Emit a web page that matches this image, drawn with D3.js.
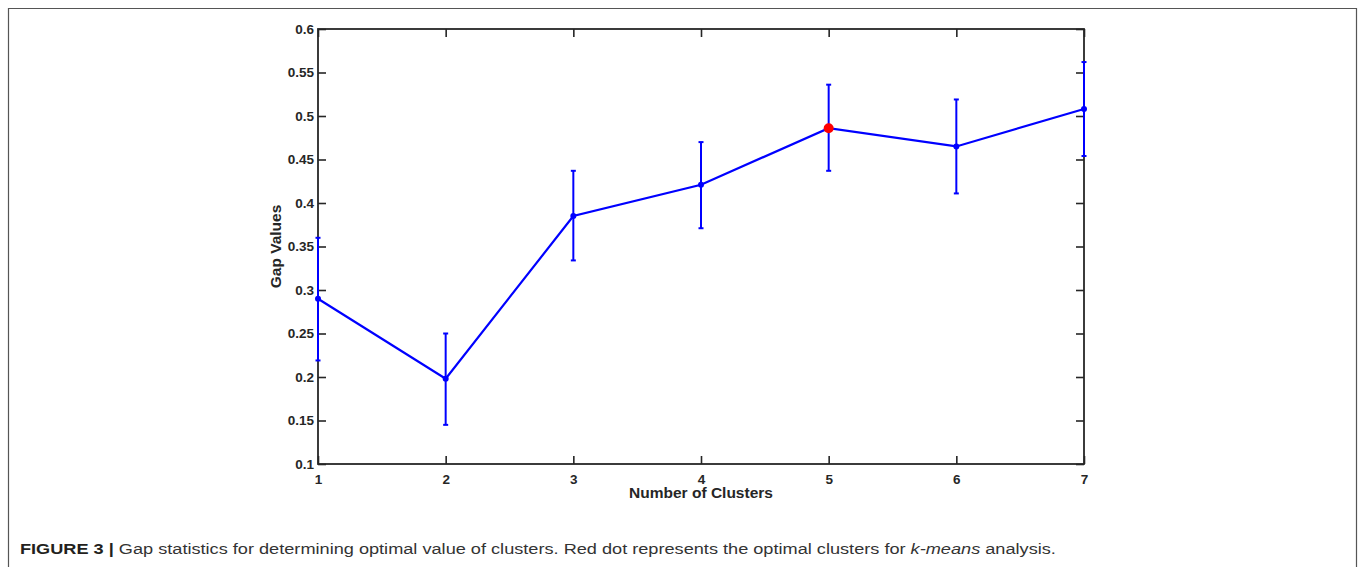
<!doctype html>
<html>
<head>
<meta charset="UTF-8">
<title>Gap statistics</title>
<script src="https://d3js.org/d3.v7.min.js"></script>
<style>
  body { margin: 0; background: #fff; }
  text { font-family: "Liberation Sans", Arial, sans-serif; }
</style>
</head>
<body>
<svg width="1365" height="567" id="chart"></svg>
<script>
// number of clusters and gap values
var clusters = [1, 2, 3, 4, 5, 6, 7];
var gapValues = [0.290, 0.198, 0.385, 0.421, 0.486, 0.465, 0.508];
var errLow = [0.219, 0.145, 0.334, 0.371, 0.437, 0.411, 0.454];
var errHigh = [0.360, 0.250, 0.437, 0.470, 0.536, 0.519, 0.562];
var yTicks = [0.1, 0.15, 0.2, 0.25, 0.3, 0.35, 0.4, 0.45, 0.5, 0.55, 0.6];
var bestK = 5;

var svg = d3.select("#chart");
var plotL = 318, plotR = 1084, plotT = 29, plotB = 464;

// outer frame of the figure (open at the bottom)
svg.append("path")
  .attr("d", "M8.5,567 V8.5 H1356.5 V567")
  .attr("fill", "none")
  .attr("stroke", "#555")
  .attr("stroke-width", 1.2);

var x = d3.scaleLinear().domain([1, 7]).range([plotL, plotR]);
var y = d3.scaleLinear().domain([0.1, 0.6]).range([plotB, plotT]);

var axisColor = "#262626";
function styleAxis(g) {
  g.select(".domain").remove();
  g.selectAll(".tick line").attr("stroke", axisColor).attr("stroke-width", 1.6);
  g.selectAll(".tick text")
    .attr("fill", "#262626")
    .attr("font-size", 13.5)
    .attr("font-weight", "bold");
}

// bottom axis with inward ticks
svg.append("g")
  .attr("transform", "translate(0," + plotB + ")")
  .call(d3.axisBottom(x).tickValues(clusters).tickFormat(d3.format("d")).tickSizeInner(-8).tickSizeOuter(0))
  .call(styleAxis)
  .call(function (g) { g.selectAll(".tick text").attr("dy", "0.71em").attr("y", 10); });

// top axis ticks only
svg.append("g")
  .attr("transform", "translate(0," + plotT + ")")
  .call(d3.axisTop(x).tickValues(clusters).tickSizeInner(-8).tickSizeOuter(0).tickFormat(""))
  .call(styleAxis);

// left axis
svg.append("g")
  .attr("transform", "translate(" + plotL + ",0)")
  .call(d3.axisLeft(y).tickValues(yTicks).tickFormat(function (d) { return String(+d.toFixed(2)); })
    .tickSizeInner(-8).tickSizeOuter(0))
  .call(styleAxis)
  .call(function (g) { g.selectAll(".tick text").attr("x", -4); });

// right axis ticks only
svg.append("g")
  .attr("transform", "translate(" + plotR + ",0)")
  .call(d3.axisRight(y).tickValues(yTicks).tickSizeInner(-8).tickSizeOuter(0).tickFormat(""))
  .call(styleAxis);

// axes box
svg.append("rect")
  .attr("x", plotL).attr("y", plotT)
  .attr("width", plotR - plotL).attr("height", plotB - plotT)
  .attr("fill", "none")
  .attr("stroke", axisColor)
  .attr("stroke-width", 1.8);

// axis labels
svg.append("text")
  .attr("x", (plotL + plotR) / 2).attr("y", 498)
  .attr("text-anchor", "middle")
  .attr("font-size", 15.5).attr("font-weight", "bold").attr("fill", "#262626")
  .text("Number of Clusters");

svg.append("text")
  .attr("transform", "translate(281," + ((plotT + plotB) / 2) + ") rotate(-90)")
  .attr("text-anchor", "middle")
  .attr("font-size", 15.5).attr("font-weight", "bold").attr("fill", "#262626")
  .text("Gap Values");

var blue = "#0000ff";
var data = clusters.map(function (k, i) {
  return { k: k, v: gapValues[i], lo: errLow[i], hi: errHigh[i] };
});

// error bars
var eb = svg.append("g").attr("stroke", blue).attr("stroke-width", 2);
data.forEach(function (d) {
  eb.append("line").attr("x1", x(d.k)).attr("x2", x(d.k)).attr("y1", y(d.lo)).attr("y2", y(d.hi));
  eb.append("line").attr("x1", x(d.k) - 2.5).attr("x2", x(d.k) + 2.5).attr("y1", y(d.lo)).attr("y2", y(d.lo));
  eb.append("line").attr("x1", x(d.k) - 2.5).attr("x2", x(d.k) + 2.5).attr("y1", y(d.hi)).attr("y2", y(d.hi));
});

// connecting line
svg.append("path")
  .datum(data)
  .attr("fill", "none")
  .attr("stroke", blue)
  .attr("stroke-width", 2.2)
  .attr("d", d3.line().x(function (d) { return x(d.k); }).y(function (d) { return y(d.v); }));

// markers
svg.selectAll("circle.pt")
  .data(data)
  .enter().append("circle")
  .attr("class", "pt")
  .attr("cx", function (d) { return x(d.k); })
  .attr("cy", function (d) { return y(d.v); })
  .attr("r", function (d) { return d.k === bestK ? 5 : 3; })
  .attr("fill", function (d) { return d.k === bestK ? "#ff0000" : blue; });

// caption
var cap = svg.append("text")
  .attr("x", 20).attr("y", 554)
  .attr("font-size", 15)
  .attr("fill", "#333");
cap.append("tspan").attr("font-weight", "bold").attr("fill", "#231f20").text("FIGURE 3 | ");
cap.append("tspan").text("Gap statistics for determining optimal value of clusters. Red dot represents the optimal clusters for ");
cap.append("tspan").attr("font-style", "italic").text("k-means");
cap.append("tspan").text(" analysis.");
var w = cap.node().getComputedTextLength();
var sx = 1037 / w;
cap.attr("transform", "translate(20,0) scale(" + sx + ",1) translate(-20,0)");
</script>
</body>
</html>
